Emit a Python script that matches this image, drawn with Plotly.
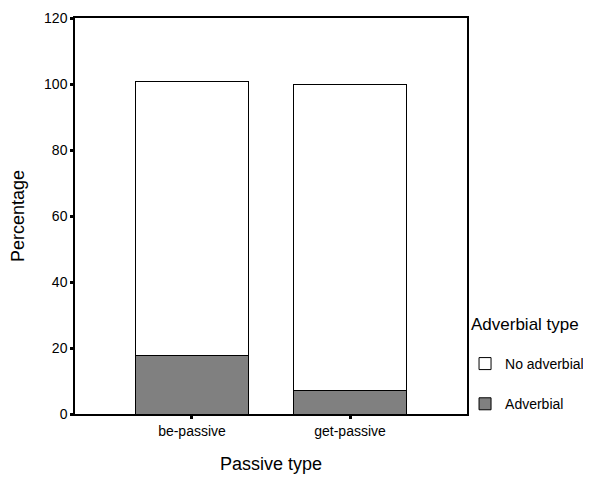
import plotly.graph_objects as go

categories = ["be-passive", "get-passive"]
adverbial = [17.8, 7.1]
no_adverbial = [83.1, 92.9]
y_ticks = [0, 20, 40, 60, 80, 100, 120]

fig = go.Figure()
fig.add_trace(go.Bar(
    x=categories, y=adverbial, name="Adverbial", legendgroup="a", legendrank=2,
    marker=dict(color="#808080", line=dict(color="black", width=1)),
    width=0.72,
))
fig.add_trace(go.Bar(
    x=categories, y=no_adverbial, name="No adverbial", legendgroup="b", legendrank=1,
    marker=dict(color="white", line=dict(color="black", width=1)),
    width=0.72,
))

fig.add_annotation(
    text="Adverbial type", xref="paper", yref="paper",
    x=1.0051, y=0.227, xanchor="left", yanchor="middle",
    showarrow=False, font=dict(size=17),
)

fig.update_layout(
    barmode="stack",
    width=583, height=466,
    margin=dict(l=67, r=124, t=10, b=60, autoexpand=False),
    paper_bgcolor="white", plot_bgcolor="white",
    font=dict(family="Liberation Sans, Arial, sans-serif", size=14, color="black"),
    legend=dict(
        traceorder="grouped",
        x=0.995, xanchor="left", y=0.1667, yanchor="top",
        font=dict(size=14),
        tracegroupgap=19,
        bgcolor="rgba(0,0,0,0)",
    ),
    xaxis=dict(
        range=[-0.74, 1.74],
        automargin=False,
        showline=True, linecolor="black", linewidth=1.5, mirror=True,
        ticks="outside", ticklen=3, tickwidth=3, tickcolor="black",
        title=dict(text="Passive type", font=dict(size=18), standoff=35),
        tickfont=dict(size=14),
    ),
    yaxis=dict(
        range=[0, 120],
        tickvals=y_ticks,
        automargin=False,
        showline=True, linecolor="black", linewidth=1.5, mirror=True,
        showgrid=False, zeroline=False,
        ticks="outside", ticklen=3, tickwidth=3, tickcolor="black",
        title=dict(text="Percentage", font=dict(size=18), standoff=16),
        tickfont=dict(size=14),
    ),
)

fig.write_html("out.html")
